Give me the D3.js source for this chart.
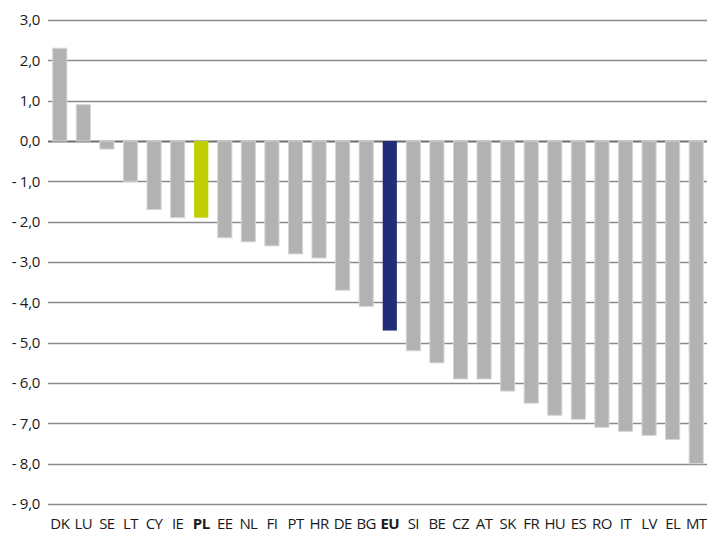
<!DOCTYPE html>
<html>
<head>
<meta charset="utf-8">
<script src="https://cdn.jsdelivr.net/npm/d3@7"></script>
<style>
  body { margin: 0; background: #fff; }
  text { font-family: "Open Sans", sans-serif; fill: #1a1a1a; }
</style>
</head>
<body>
<svg id="chart"></svg>
<script>
const countries = ["DK","LU","SE","LT","CY","IE","PL","EE","NL","FI","PT","HR","DE","BG","EU","SI","BE","CZ","AT","SK","FR","HU","ES","RO","IT","LV","EL","MT"];
const values = [2.3,0.9,-0.2,-1.0,-1.7,-1.9,-1.9,-2.4,-2.5,-2.6,-2.8,-2.9,-3.7,-4.1,-4.7,-5.2,-5.5,-5.9,-5.9,-6.2,-6.5,-6.8,-6.9,-7.1,-7.2,-7.3,-7.4,-8.0];
const yTicks = [3,2,1,0,-1,-2,-3,-4,-5,-6,-7,-8,-9];
const highlight = { PL: "#bfcf00", EU: "#212d77" };

const width = 708, height = 533;
const svg = d3.select("#chart").attr("width", width).attr("height", height);
const margin = { top: 20, right: 0, bottom: 29, left: 48 };

const x = d3.scaleBand().domain(countries).range([margin.left, width - margin.right]).paddingInner(0.4).paddingOuter(0.2);
const y = d3.scaleLinear().domain([-9, 3]).range([height - margin.bottom, margin.top]);

// gridlines
svg.append("g").selectAll("line").data(yTicks).join("line")
  .attr("x1", margin.left).attr("x2", width - 1)
  .attr("y1", d => Math.round(y(d)) + 0.5).attr("y2", d => Math.round(y(d)) + 0.5)
  .attr("stroke", d => d === 0 ? "#6e6e6e" : "#8a8a8a")
  .attr("stroke-width", d => d === 0 ? 2 : 1.3);

// y labels
const fmt = v => (v < 0 ? "- " : "") + Math.abs(v).toFixed(1).replace(".", ",");
svg.append("g").selectAll("text").data(yTicks).join("text")
  .attr("x", 40).attr("y", d => y(d)).attr("dy", "0.35em")
  .attr("text-anchor", "end").attr("font-size", 15)
  .attr("letter-spacing", "-0.3")
  .text(fmt);

// bars
const data = countries.map((c, i) => ({ c, v: values[i] }));
svg.append("g").selectAll("rect").data(data).join("rect")
  .attr("x", d => x(d.c))
  .attr("width", x.bandwidth())
  .attr("y", d => y(Math.max(0, d.v)))
  .attr("height", d => Math.abs(y(d.v) - y(0)))
  .attr("fill", d => highlight[d.c] || "#b2b2b2")
  .attr("stroke", d => highlight[d.c] ? "none" : "#d6d6d6")
  .attr("stroke-width", 1);

// x labels
svg.append("g").selectAll("text").data(countries).join("text")
  .attr("x", d => x(d) + x.bandwidth() / 2)
  .attr("y", 529)
  .attr("text-anchor", "middle").attr("font-size", 15)
  .attr("letter-spacing", "-0.6")
  .attr("font-weight", d => highlight[d] ? "bold" : "normal")
  .text(d => d);
</script>
</body>
</html>
